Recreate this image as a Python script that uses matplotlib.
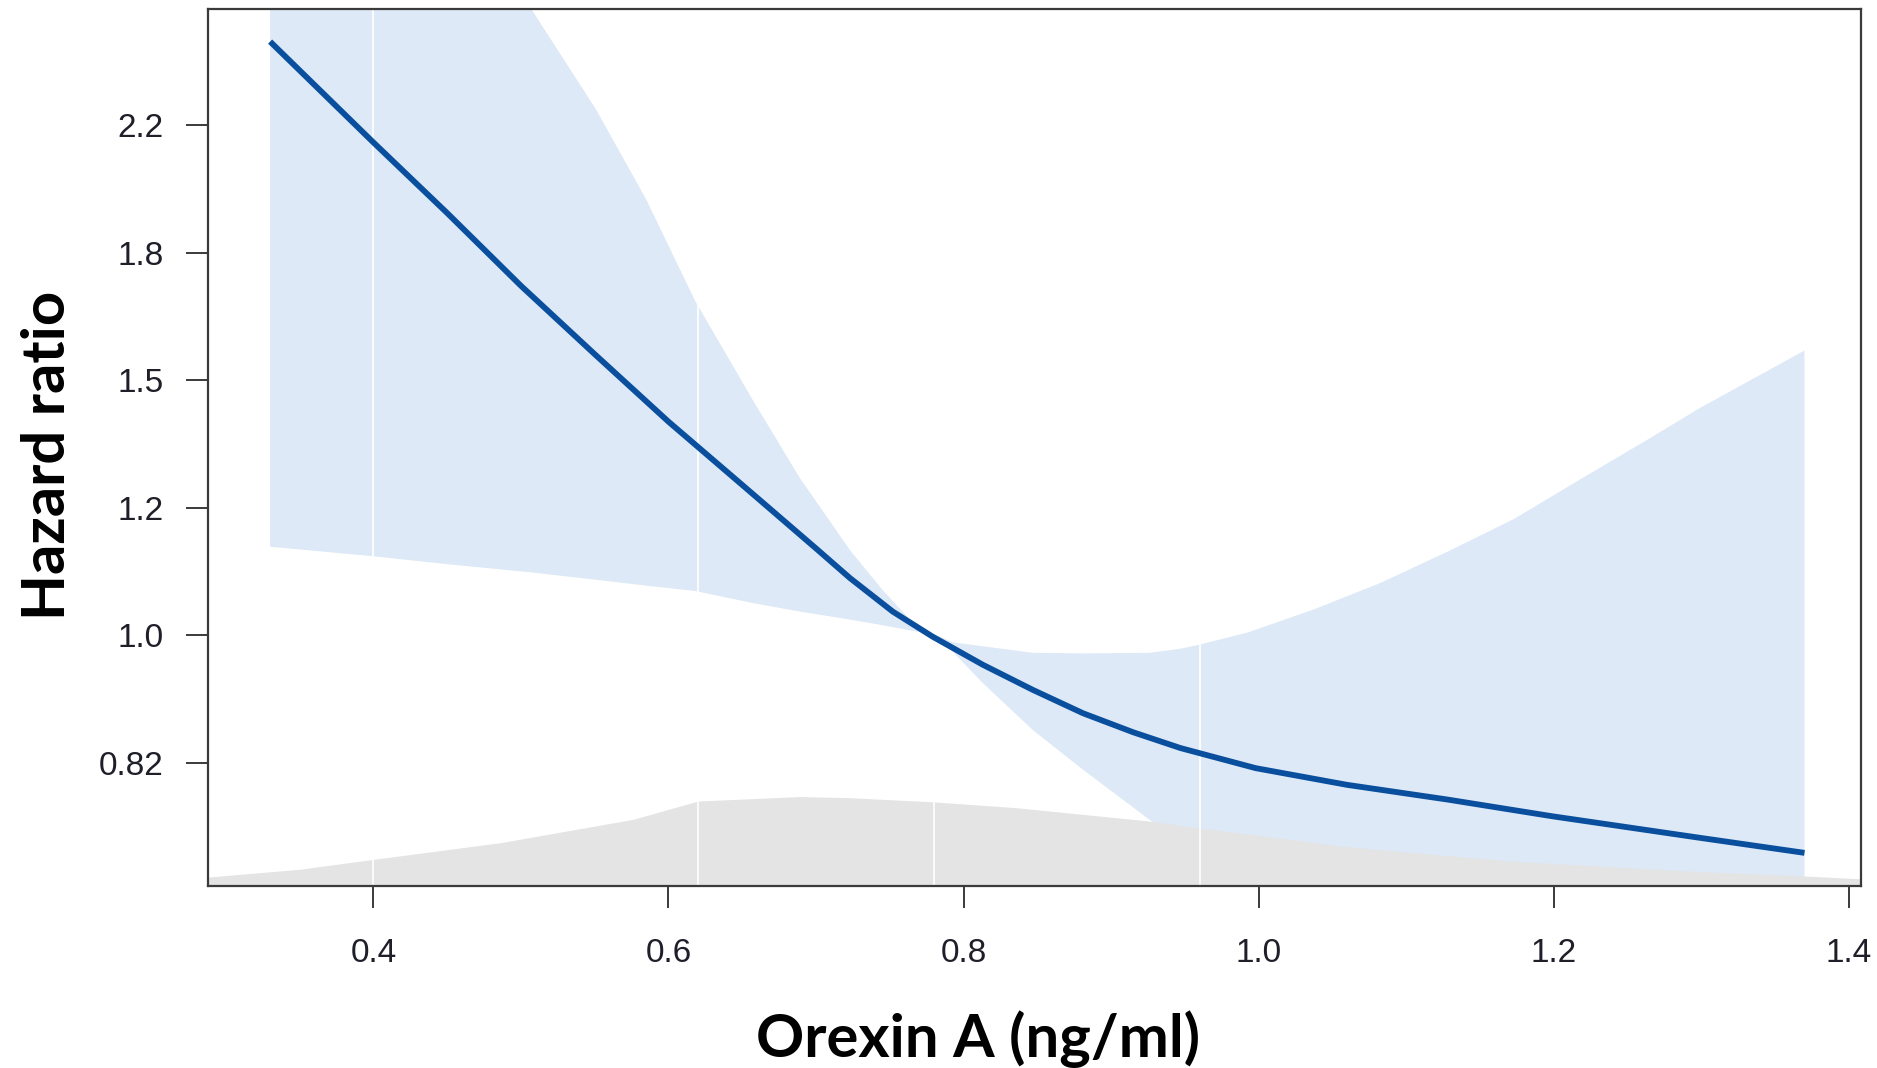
import numpy as np
import matplotlib
matplotlib.use("Agg")
import matplotlib.pyplot as plt

plt.rcParams["font.family"] = ["Liberation Sans", "DejaVu Sans"]

# spline estimate of hazard ratio vs orexin A
OREXIN = [0.33, 0.40, 0.45, 0.50, 0.55, 0.60, 0.65, 0.70, 0.723, 0.752, 0.779,
          0.813, 0.847, 0.881, 0.915, 0.947, 0.998, 1.06, 1.128, 1.199, 1.299, 1.37]
HR = [2.537, 2.166, 1.939, 1.730, 1.554, 1.398, 1.266, 1.146, 1.094, 1.038, 0.998,
      0.955, 0.918, 0.885, 0.859, 0.838, 0.812, 0.791, 0.773, 0.753, 0.728, 0.711]

# 95% confidence band
CI_X = [0.33, 0.40, 0.45, 0.506, 0.551, 0.585, 0.618, 0.657, 0.689, 0.723, 0.745,
        0.768, 0.782, 0.793, 0.813, 0.847, 0.881, 0.926, 0.9465, 0.959, 0.992,
        1.037, 1.082, 1.128, 1.173, 1.218, 1.263, 1.299, 1.37]
HR_UPPER = [6.0, 4.4, 3.4, 2.68, 2.28, 1.98, 1.69, 1.447, 1.28, 1.143, 1.074,
            1.014, 1.0, 0.989, 0.983, 0.973, 0.972, 0.973, 0.979, 0.985, 1.004,
            1.041, 1.085, 1.140, 1.20, 1.277, 1.358, 1.428, 1.563]
HR_LOWER = [1.149, 1.132, 1.118, 1.104, 1.091, 1.081, 1.072, 1.052, 1.038, 1.025, 1.016,
            1.006, 1.0, 0.974, 0.928, 0.862, 0.81, 0.749, 0.725, 0.715, 0.695,
            0.675, 0.66, 0.645, 0.635, 0.625, 0.615, 0.605, 0.585]

# distribution of orexin A (relative density, peak = 1)
DENS_X = [0.288, 0.35, 0.40, 0.486, 0.576, 0.62, 0.689, 0.723, 0.778, 0.836,
          0.926, 0.947, 1.06, 1.17, 1.30, 1.37, 1.411]
DENS_Y = [0.10, 0.187, 0.298, 0.484, 0.745, 0.95, 1.0, 0.987, 0.942, 0.875,
          0.726, 0.677, 0.439, 0.279, 0.16, 0.112, 0.078]

KNOTS = [0.40, 0.62, 0.78, 0.96]

YTICKS = [0.8187, 1.0, 1.2214, 1.4918, 1.8221, 2.2255]
YTICK_LABELS = ["0.82", "1.0", "1.2", "1.5", "1.8", "2.2"]
XTICKS = [0.4, 0.6, 0.8, 1.0, 1.2, 1.4]

FRAME = "#3a3a3a"
TICK_TXT = "#1f1f2a"

fig = plt.figure(figsize=(18.77, 10.68), dpi=100)
ax = fig.add_axes([208 / 1877, 1 - 886 / 1068, (1861 - 208) / 1877, 877 / 1068])

ax.fill_between(CI_X, HR_LOWER, HR_UPPER, color="#dde9f6", lw=0, zorder=1)
ax.fill_between(DENS_X, 0, np.array(DENS_Y) * 0.102, color="#e4e4e4", lw=0,
                transform=ax.get_xaxis_transform(), zorder=1.5)
for k in KNOTS:
    ax.axvline(k, color="white", lw=1.2, zorder=2)
ax.plot(OREXIN, HR, color="#0a4f9e", lw=4.2, solid_capstyle="butt", zorder=2.2)

ax.set_yscale("log")
ax.set_xlim(0.2879, 1.4083)
ax.set_ylim(0.675, 2.67)
ax.set_yticks(YTICKS)
ax.set_yticklabels(YTICK_LABELS)
ax.yaxis.set_minor_locator(matplotlib.ticker.NullLocator())
ax.set_xticks(XTICKS)
ax.set_xticklabels([f"{v:.1f}" for v in XTICKS])

for side in ax.spines.values():
    side.set_color(FRAME)
    side.set_linewidth(1.6)
    side.set_zorder(3)
ax.tick_params(axis="both", length=15.5, width=1.4, color=FRAME,
               labelsize=24, labelcolor=TICK_TXT)
ax.tick_params(axis="x", pad=22)
ax.tick_params(axis="y", pad=16.5)

fig.text(48 / 1877, 1 - 455 / 1068, "Hazard ratio", rotation=90, ha="center",
         va="center", fontsize=43, fontweight="bold", family="Lato")
fig.text(978 / 1877, 1 - 1057 / 1068, "Orexin A (ng/ml)", ha="center",
         va="baseline", fontsize=43, fontweight="bold", family="Lato")

fig.savefig("out.png", dpi=100)
